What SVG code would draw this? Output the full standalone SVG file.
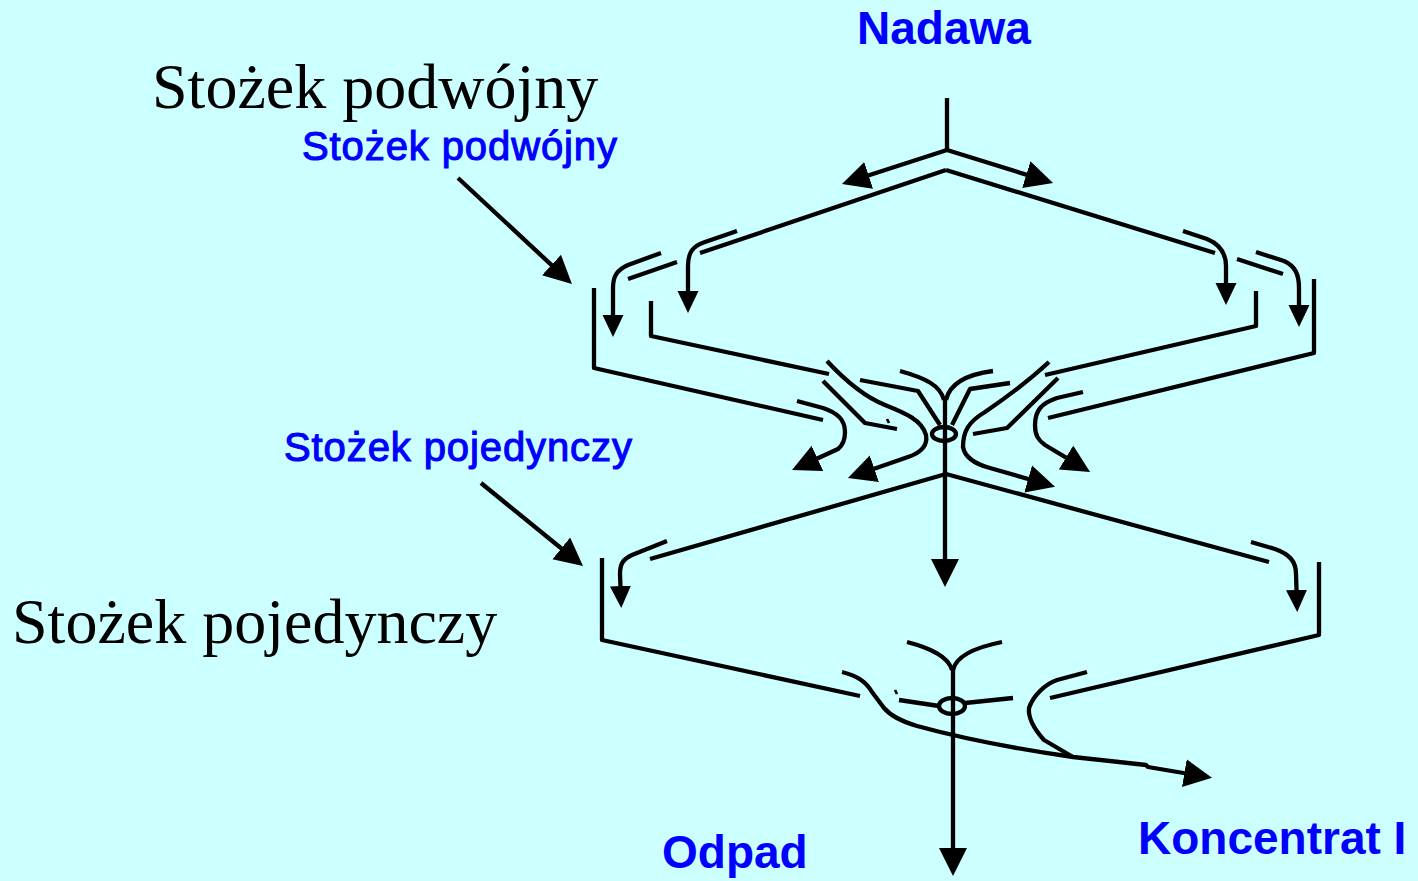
<svg xmlns="http://www.w3.org/2000/svg" width="1418" height="881" viewBox="0 0 1418 881">
  <style>
    .ln{fill:none;stroke:#000;stroke-width:4.3;stroke-linejoin:round;stroke-linecap:butt}
    .thin{fill:none;stroke:#000;stroke-width:2.6}
    .blue{font-family:"Liberation Sans",Arial,sans-serif;font-weight:bold;fill:#0000FF}
    .bluel{font-family:"Liberation Sans",Arial,sans-serif;fill:#0000FF;stroke:#0000FF;stroke-width:1.1}
    .serif{font-family:"Liberation Serif","Times New Roman",serif;fill:#000}
    .sm{marker-end:url(#ah-s)}
    .lg{marker-end:url(#ah-l)}
  </style>
  <defs>
    <marker id="ah-s" markerUnits="userSpaceOnUse" markerWidth="24" markerHeight="24" viewBox="0 -12 24 24" refX="15" refY="0" orient="auto">
      <path d="M0,-10.5 L22,0 L0,10.5 z" fill="#000"/>
    </marker>
    <marker id="ah-l" markerUnits="userSpaceOnUse" markerWidth="30" markerHeight="30" viewBox="0 -15 30 30" refX="20" refY="0" orient="auto">
      <path d="M0,-14 L28,0 L0,14 z" fill="#000"/>
    </marker>
  </defs>
  <rect x="0" y="0" width="1418" height="881" fill="#CCFFFF"/>

  <g id="label-nadawa"><text class="blue" x="857" y="44" font-size="46">Nadawa</text></g>
  <g id="title-double"><text class="serif" x="152" y="108" font-size="64">Stożek podwójny</text></g>
  <g id="label-double"><text class="bluel" x="302" y="160" font-size="40" letter-spacing="0.9">Stożek podwójny</text></g>
  <g id="label-single"><text class="bluel" x="284" y="461" font-size="40" letter-spacing="0.9">Stożek pojedynczy</text></g>
  <g id="title-single"><text class="serif" x="12" y="643" font-size="64">Stożek pojedynczy</text></g>
  <g id="label-odpad"><text class="blue" x="662" y="868" font-size="46">Odpad</text></g>
  <g id="label-koncentrat"><text class="blue" x="1138" y="854" font-size="46">Koncentrat I</text></g>

  <g id="double-cone">
    <path class="ln" d="M946,170 L700,253 M677,262 L628,279"/>
    <path class="ln" d="M946,170 L1215,253 M1237,259 L1283,274"/>
    <path class="ln" d="M594,288 L594,368 L823,420"/>
    <path class="ln" d="M651,301 L651,336 L829,374"/>
    <path class="ln" d="M1256,291 L1256,326 L1045,375"/>
    <path class="ln" d="M1314,279 L1314,353 L1048,418"/>
    <path class="ln" d="M823,381 L865,423 L897,429"/>
    <path class="thin" d="M887,419 L889,423"/>
    <path class="ln" d="M860,380 L918,391 L940,425"/>
    <path class="ln" d="M1010,383 L970,389 L952,425"/>
    <path class="ln" d="M1058,378 L1007,428 L973,434"/>
    <path class="ln" d="M900,371 C925,378 940,385 944,400"/>
    <path class="ln" d="M993,371 C970,374 950,382 946,400"/>
    <ellipse class="ln" cx="944" cy="434" rx="12" ry="7"/>
  </g>

  <g id="single-cone">
    <path class="ln" d="M946,474 L650,559"/>
    <path class="ln" d="M946,474 L1269,562"/>
    <path class="ln" d="M602,558 L602,640 L860,696"/>
    <path class="ln" d="M1319,562 L1319,635 L1050,698"/>
    <path class="ln" d="M907,642 C930,648 948,656 952,670"/>
    <path class="ln" d="M1002,642 C977,647 956,656 953,670"/>
    <path class="ln" d="M899,700 L939,706"/>
    <path class="ln" d="M965,703 L1013,698"/>
    <path class="thin" d="M895,690 L897,694"/>
    <ellipse class="ln" cx="952" cy="706" rx="13" ry="8"/>
  </g>

  <g id="connectors">
    <path class="ln" d="M947,98 L947,150"/>
    <path class="ln lg" d="M947,150 L849.6,181.5"/>
    <path class="ln lg" d="M947,150 L1045.4,180.6"/>
    <path class="ln sm" d="M737,231 L705,242 C693,246 688,252 688,266 L688,306"/>
    <path class="ln sm" d="M661,253 L628,265 C617,270 613,276 613,288 L613,330"/>
    <path class="ln sm" d="M1183,231 L1207,239 C1219,244 1226,252 1226,266 L1226,298"/>
    <path class="ln sm" d="M1256,252 L1284,261 C1295,266 1299,274 1299,288 L1299,320"/>
    <path class="ln lg" d="M797,401 L823,408 C838,413 845,420 845,432 C845,440 843,445 838,449 L799.3,466.7"/>
    <path class="ln lg" d="M827,361 C840,375 860,395 885,405 C905,413 922,420 926,435 C928,446 920,453 908,457 L855.5,475.3"/>
    <path class="ln lg" d="M1049,362 C1035,375 1010,395 985,412 C968,422 963,432 963,447 C965,458 975,464 990,468 L1047.4,484.5"/>
    <path class="ln lg" d="M1083,392 L1057,398 C1042,403 1035,410 1035,425 C1035,435 1038,440 1045,445 L1083.2,467.8"/>
    <path class="ln lg" d="M945,398 L945,579"/>
    <path class="ln sm" d="M667,541 L632,555 C623,559 620,564 620,574 L621,601"/>
    <path class="ln sm" d="M1251,542 L1275,549 C1289,554 1296,561 1296,574 L1297,605"/>
    <path class="ln lg" d="M953,668 L953,868"/>
    <path class="ln lg" d="M842,672 C858,676 866,682 872,692 L884,708 C890,715 900,721 917,726 C950,735 1010,748 1073,757 L1146,765 L1148,767 L1204.1,776.5"/>
    <path class="ln" d="M1087,672 L1057,680 C1045,684 1033,696 1029,708 C1028,718 1035,730 1044,740 L1073,757"/>
    <path class="ln lg" d="M458,178 L566.1,278.6"/>
    <path class="ln lg" d="M481,483 L576.8,561"/>
  </g>
</svg>
